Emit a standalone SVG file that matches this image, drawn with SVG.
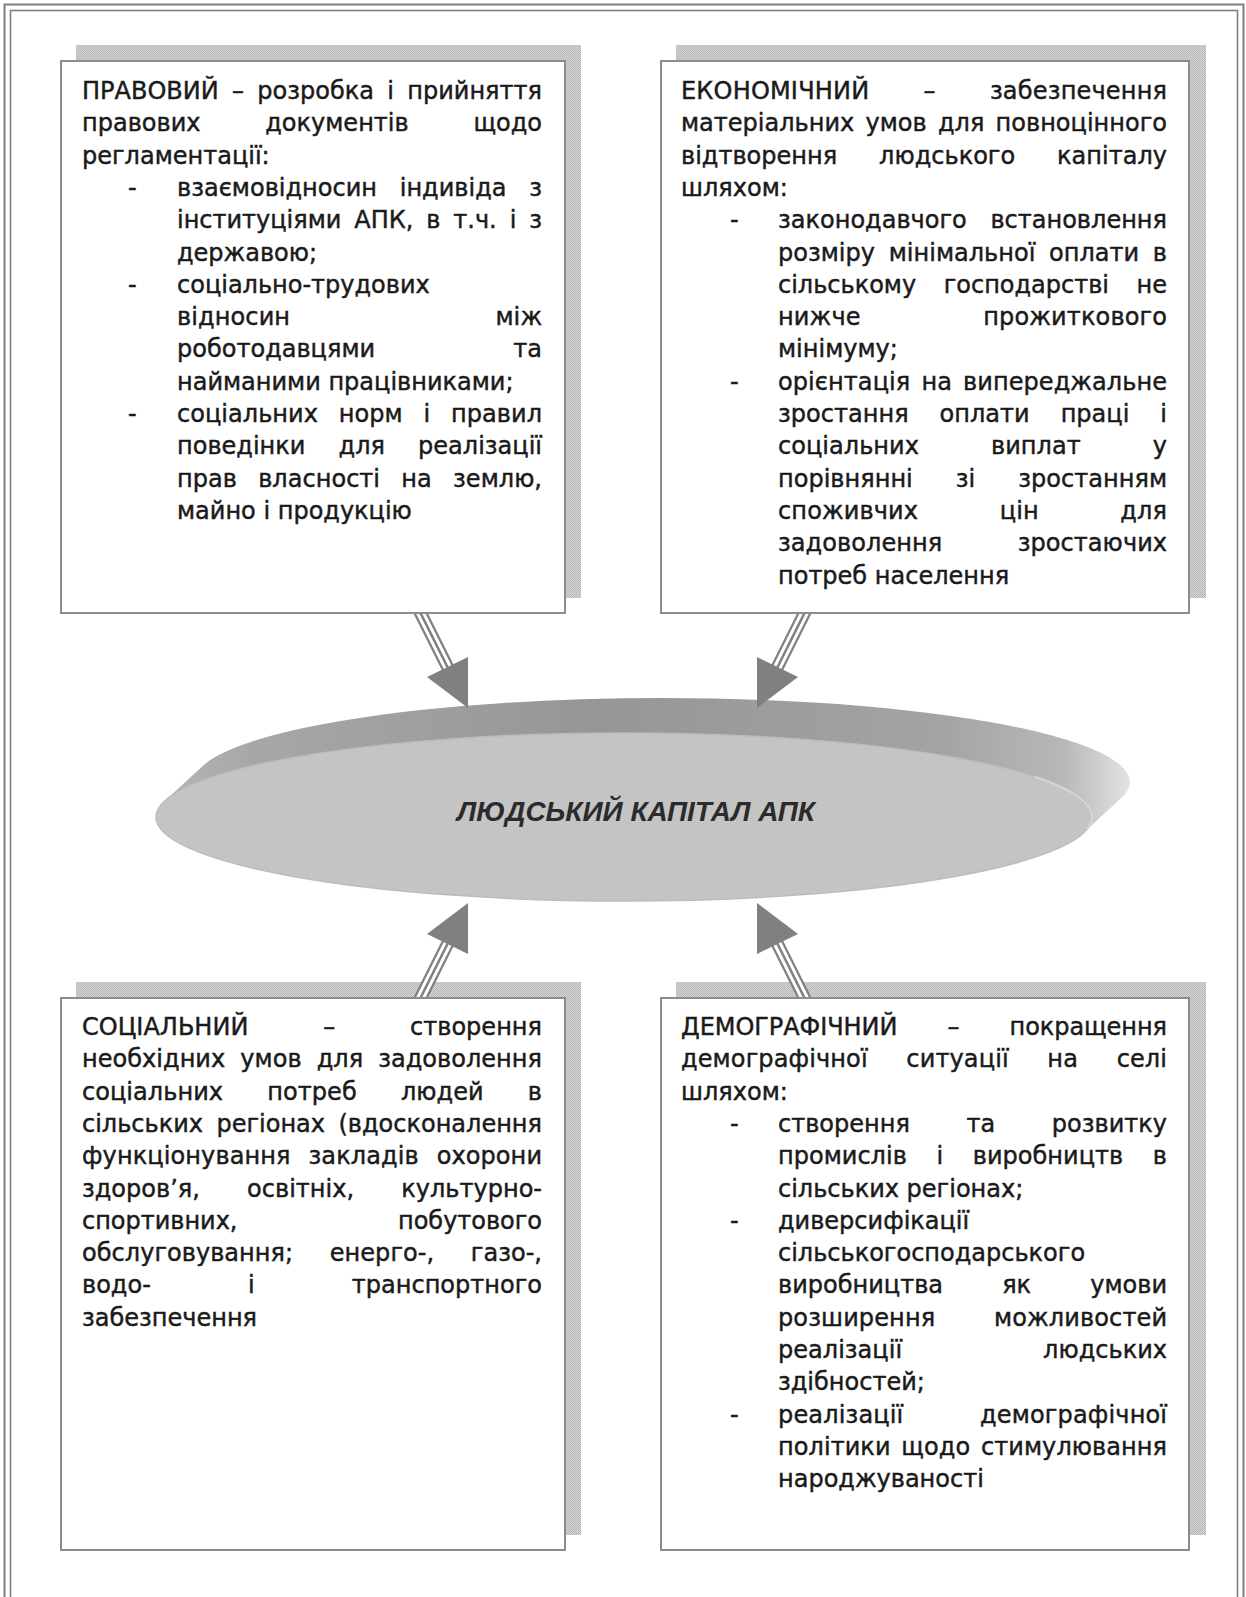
<svg xmlns="http://www.w3.org/2000/svg" width="1246" height="1597" viewBox="0 0 1246 1597">
  <defs>
    <!-- dithered grey used for the offset box shadows -->
    <pattern id="dots" width="2" height="2" patternUnits="userSpaceOnUse">
      <rect width="2" height="2" fill="#d3d3d3"/>
      <rect width="1" height="1" fill="#b9b9b9"/>
      <rect x="1" y="1" width="1" height="1" fill="#b9b9b9"/>
    </pattern>
    <!-- shading of the extruded disc edge -->
    <linearGradient id="rimGrad" gradientUnits="userSpaceOnUse" x1="156" y1="0" x2="1132" y2="0">
      <stop offset="0" stop-color="#b6b6b6"/>
      <stop offset="0.1" stop-color="#a7a7a7"/>
      <stop offset="0.45" stop-color="#969696"/>
      <stop offset="0.8" stop-color="#a3a3a3"/>
      <stop offset="0.93" stop-color="#b8b8b8"/>
      <stop offset="1" stop-color="#e4e4e4"/>
    </linearGradient>
    <!-- arrows only show in the band between the upper and lower boxes -->
    <clipPath id="gap">
      <rect x="0" y="614" width="1246" height="383"/>
    </clipPath>
  </defs>
  <style>
    .frame { fill: none; stroke: #7f7f7f; }
    .shadow { fill: url(#dots); }
    .box { fill: #ffffff; stroke: #8c8c8c; stroke-width: 2; }
    .t { font-family: 'DejaVu Sans', 'Liberation Sans', sans-serif; font-size: 24px; fill: #1a1a1a; stroke: #1a1a1a; stroke-width: 0.45px; }
    .title { font-family: 'Liberation Sans', Arial, sans-serif; font-size: 28px; font-weight: bold; font-style: italic; fill: #2b2b2b; }
    .shaft-o { fill: none; stroke: #808080; stroke-width: 13; }
    .shaft-w { fill: none; stroke: #ffffff; stroke-width: 8.5; }
    .shaft-c { fill: none; stroke: #808080; stroke-width: 2.5; }
    .head { fill: #808080; }
  </style>

  <rect width="1246" height="1597" fill="#ffffff"/>

  <!-- double page frame -->
  <g id="frame">
    <rect class="frame" x="4.5" y="4.5" width="1239" height="1640" stroke-width="2"/>
    <rect class="frame" x="10.5" y="10.5" width="1227" height="1630" stroke-width="1.6"/>
  </g>

  <!-- central disc -->
  <g id="human-capital">
    <path fill="url(#rimGrad)" d="M164.7,800.9 L202.7,765.9 A468,84 0 0,1 662,698 A468,84 0 0,1 1121.3,798.1 L1083.3,833.1 A468,84 0 0,0 624,733 A468,84 0 0,0 164.7,800.9 Z"/>
    <ellipse cx="624" cy="817" rx="468" ry="84" fill="#c4c4c4" stroke="#bcbcbc" stroke-width="1.5"/>
    <path d="M1034.7,776.7 A468,84 0 0,1 1086.8,829.5" fill="none" stroke="#d6d6d6" stroke-width="2"/>
    <text class="title" x="636" y="821" text-anchor="middle" textLength="358" lengthAdjust="spacingAndGlyphs">ЛЮДСЬКИЙ КАПІТАЛ АПК</text>
  </g>

  <!-- legal -->
  <g id="legal">
    <rect class="shadow" x="76" y="45" width="505" height="553"/>
    <rect class="box" x="61" y="61" width="504" height="552"/>
    <text class="t" x="82" y="99" textLength="460" lengthAdjust="spacing" style="word-spacing:5.6px">ПРАВОВИЙ – розробка і прийняття</text>
    <text class="t" x="82" y="131.3" textLength="460" lengthAdjust="spacing" style="word-spacing:57.1px">правових документів щодо</text>
    <text class="t" x="82" y="163.6">регламентації:</text>
    <text class="t" x="128" y="195.9">-</text>
    <text class="t" x="177" y="195.9" textLength="365" lengthAdjust="spacing" style="word-spacing:15.1px">взаємовідносин індивіда з</text>
    <text class="t" x="177" y="228.2" textLength="365" lengthAdjust="spacing" style="word-spacing:5.3px">інституціями АПК, в т.ч. і з</text>
    <text class="t" x="177" y="260.5">державою;</text>
    <text class="t" x="128" y="292.8">-</text>
    <text class="t" x="177" y="292.8">соціально-трудових</text>
    <text class="t" x="177" y="325.1" textLength="365" lengthAdjust="spacing" style="word-spacing:197.5px">відносин між</text>
    <text class="t" x="177" y="357.4" textLength="365" lengthAdjust="spacing" style="word-spacing:130.5px">роботодавцями та</text>
    <text class="t" x="177" y="389.7">найманими працівниками;</text>
    <text class="t" x="128" y="422">-</text>
    <text class="t" x="177" y="422" textLength="365" lengthAdjust="spacing" style="word-spacing:13.2px">соціальних норм і правил</text>
    <text class="t" x="177" y="454.3" textLength="365" lengthAdjust="spacing" style="word-spacing:25.5px">поведінки для реалізації</text>
    <text class="t" x="177" y="486.6" textLength="365" lengthAdjust="spacing" style="word-spacing:13.6px">прав власності на землю,</text>
    <text class="t" x="177" y="518.9">майно і продукцію</text>
  </g>

  <!-- economic -->
  <g id="economic">
    <rect class="shadow" x="676" y="45" width="530" height="553"/>
    <rect class="box" x="661" y="61" width="528" height="552"/>
    <text class="t" x="681" y="99" textLength="486" lengthAdjust="spacing" style="word-spacing:46.4px">ЕКОНОМІЧНИЙ – забезпечення</text>
    <text class="t" x="681" y="131.3" textLength="486" lengthAdjust="spacing" style="word-spacing:3.6px">матеріальних умов для повноцінного</text>
    <text class="t" x="681" y="163.6" textLength="486" lengthAdjust="spacing" style="word-spacing:34.3px">відтворення людського капіталу</text>
    <text class="t" x="681" y="195.9">шляхом:</text>
    <text class="t" x="730" y="228.2">-</text>
    <text class="t" x="778" y="228.2" textLength="389" lengthAdjust="spacing" style="word-spacing:16px">законодавчого встановлення</text>
    <text class="t" x="778" y="260.5" textLength="389" lengthAdjust="spacing" style="word-spacing:6px">розміру мінімальної оплати в</text>
    <text class="t" x="778" y="292.8" textLength="389" lengthAdjust="spacing" style="word-spacing:19.9px">сільському господарстві не</text>
    <text class="t" x="778" y="325.1" textLength="389" lengthAdjust="spacing" style="word-spacing:114.8px">нижче прожиткового</text>
    <text class="t" x="778" y="357.4">мінімуму;</text>
    <text class="t" x="730" y="389.7">-</text>
    <text class="t" x="778" y="389.7" textLength="389" lengthAdjust="spacing" style="word-spacing:3.4px">орієнтація на випереджальне</text>
    <text class="t" x="778" y="422" textLength="389" lengthAdjust="spacing" style="word-spacing:23.3px">зростання оплати праці і</text>
    <text class="t" x="778" y="454.3" textLength="389" lengthAdjust="spacing" style="word-spacing:64.4px">соціальних виплат у</text>
    <text class="t" x="778" y="486.6" textLength="389" lengthAdjust="spacing" style="word-spacing:35.4px">порівнянні зі зростанням</text>
    <text class="t" x="778" y="518.9" textLength="389" lengthAdjust="spacing" style="word-spacing:73.8px">споживчих цін для</text>
    <text class="t" x="778" y="551.2" textLength="389" lengthAdjust="spacing" style="word-spacing:67.7px">задоволення зростаючих</text>
    <text class="t" x="778" y="583.5">потреб населення</text>
  </g>

  <!-- social -->
  <g id="social">
    <rect class="shadow" x="76" y="982" width="505" height="553"/>
    <rect class="box" x="61" y="998" width="504" height="552"/>
    <text class="t" x="82" y="1035" textLength="460" lengthAdjust="spacing" style="word-spacing:67.2px">СОЦІАЛЬНИЙ – створення</text>
    <text class="t" x="82" y="1067.3" textLength="460" lengthAdjust="spacing" style="word-spacing:7.4px">необхідних умов для задоволення</text>
    <text class="t" x="82" y="1099.6" textLength="460" lengthAdjust="spacing" style="word-spacing:36.5px">соціальних потреб людей в</text>
    <text class="t" x="82" y="1131.9" textLength="460" lengthAdjust="spacing" style="word-spacing:5.8px">сільських регіонах (вдосконалення</text>
    <text class="t" x="82" y="1164.2" textLength="460" lengthAdjust="spacing" style="word-spacing:10.2px">функціонування закладів охорони</text>
    <text class="t" x="82" y="1196.5" textLength="460" lengthAdjust="spacing" style="word-spacing:39.6px">здоров’я, освітніх, культурно-</text>
    <text class="t" x="82" y="1228.8" textLength="460" lengthAdjust="spacing" style="word-spacing:153px">спортивних, побутового</text>
    <text class="t" x="82" y="1261.1" textLength="460" lengthAdjust="spacing" style="word-spacing:29px">обслуговування; енерго-, газо-,</text>
    <text class="t" x="82" y="1293.4" textLength="460" lengthAdjust="spacing" style="word-spacing:89.5px">водо- і транспортного</text>
    <text class="t" x="82" y="1325.7">забезпечення</text>
  </g>

  <!-- demographic -->
  <g id="demographic">
    <rect class="shadow" x="676" y="982" width="530" height="553"/>
    <rect class="box" x="661" y="998" width="528" height="552"/>
    <text class="t" x="681" y="1035" textLength="486" lengthAdjust="spacing" style="word-spacing:42.6px">ДЕМОГРАФІЧНИЙ – покращення</text>
    <text class="t" x="681" y="1067.3" textLength="486" lengthAdjust="spacing" style="word-spacing:30.9px">демографічної ситуації на селі</text>
    <text class="t" x="681" y="1099.6">шляхом:</text>
    <text class="t" x="730" y="1131.9">-</text>
    <text class="t" x="778" y="1131.9" textLength="389" lengthAdjust="spacing" style="word-spacing:49px">створення та розвитку</text>
    <text class="t" x="778" y="1164.2" textLength="389" lengthAdjust="spacing" style="word-spacing:22px">промислів і виробництв в</text>
    <text class="t" x="778" y="1196.5">сільських регіонах;</text>
    <text class="t" x="730" y="1228.8">-</text>
    <text class="t" x="778" y="1228.8">диверсифікації</text>
    <text class="t" x="778" y="1261.1">сільськогосподарського</text>
    <text class="t" x="778" y="1293.4" textLength="389" lengthAdjust="spacing" style="word-spacing:51.5px">виробництва як умови</text>
    <text class="t" x="778" y="1325.7" textLength="389" lengthAdjust="spacing" style="word-spacing:51px">розширення можливостей</text>
    <text class="t" x="778" y="1358" textLength="389" lengthAdjust="spacing" style="word-spacing:133.3px">реалізації людських</text>
    <text class="t" x="778" y="1390.3">здібностей;</text>
    <text class="t" x="730" y="1422.6">-</text>
    <text class="t" x="778" y="1422.6" textLength="389" lengthAdjust="spacing" style="word-spacing:68.9px">реалізації демографічної</text>
    <text class="t" x="778" y="1454.9" textLength="389" lengthAdjust="spacing" style="word-spacing:3.1px">політики щодо стимулювання</text>
    <text class="t" x="778" y="1487.2">народжуваності</text>
  </g>

  <!-- triple-line arrows from each factor box to the disc -->
  <g id="connectors" clip-path="url(#gap)">
    <g id="legal-to-capital">
      <path class="shaft-o" d="M411.7,595.4 L448.8,669.7"/>
      <path class="shaft-w" d="M411.7,595.4 L448.8,669.7"/>
      <path class="shaft-c" d="M411.7,595.4 L448.8,669.7"/>
      <polygon class="head" points="427,677 468,657 468,708"/>
    </g>
    <g id="economic-to-capital">
      <path class="shaft-o" d="M813.3,595.4 L776.2,669.7"/>
      <path class="shaft-w" d="M813.3,595.4 L776.2,669.7"/>
      <path class="shaft-c" d="M813.3,595.4 L776.2,669.7"/>
      <polygon class="head" points="798,677 757,657 757,708"/>
    </g>
    <g id="social-to-capital">
      <path class="shaft-o" d="M411.7,1015.6 L448.8,941.3"/>
      <path class="shaft-w" d="M411.7,1015.6 L448.8,941.3"/>
      <path class="shaft-c" d="M411.7,1015.6 L448.8,941.3"/>
      <polygon class="head" points="427,934 468,954 468,903"/>
    </g>
    <g id="demographic-to-capital">
      <path class="shaft-o" d="M813.3,1015.6 L776.2,941.3"/>
      <path class="shaft-w" d="M813.3,1015.6 L776.2,941.3"/>
      <path class="shaft-c" d="M813.3,1015.6 L776.2,941.3"/>
      <polygon class="head" points="798,934 757,954 757,903"/>
    </g>
  </g>
</svg>
